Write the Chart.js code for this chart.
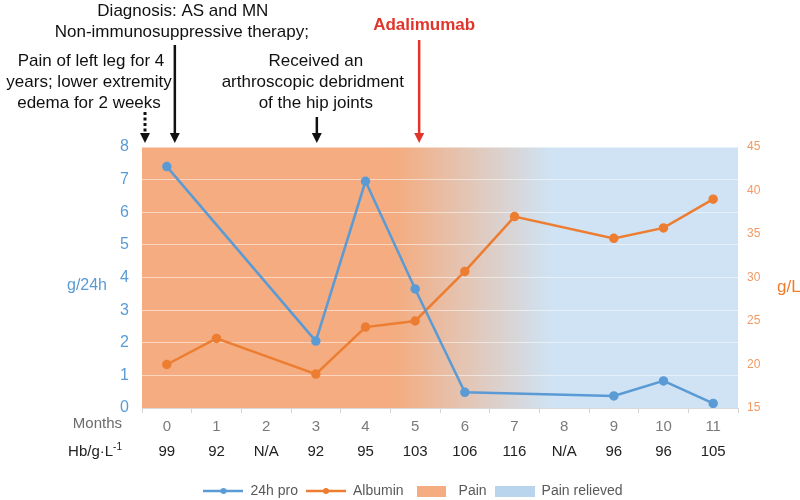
<!DOCTYPE html>
<html>
<head>
<meta charset="utf-8">
<script src="https://cdn.jsdelivr.net/npm/chart.js@4.4.1/dist/chart.umd.min.js"></script>
<style>
html,body{margin:0;padding:0;background:#fff;}
#wrap{width:800px;height:500px;}
</style>
</head>
<body>
<div id="wrap"><canvas id="c" width="800" height="500"></canvas></div>
<script>
// ---- data ----
const months = ['0','1','2','3','4','5','6','7','8','9','10','11'];
const hbValues = ['99','92','N/A','92','95','103','106','116','N/A','96','96','105'];
const pro24h = [7.4, null, null, 2.05, 6.95, 3.65, 0.48, null, null, 0.37, 0.83, 0.14];
const albumin = [20.0, 23.0, null, 18.9, 24.3, 25.0, 30.7, 37.0, null, 34.5, 35.7, 39.0];
const leftRange = [0, 8];
const rightRange = [15, 45];
const painFade = [4.6, 7.75]; // month positions where pain fades into relief

const FONT = '"Liberation Sans", Arial, Helvetica, sans-serif';
const BLUE = '#5B9BD5';
const ORANGE = '#ED7D31';
const PAIN = '#F4AC80';
const RELIEF = '#CFE3F4';

function lineImg(color){
  const c = document.createElement('canvas'); c.width = 40; c.height = 8;
  const g = c.getContext('2d');
  g.strokeStyle = color; g.lineWidth = 2.5;
  g.beginPath(); g.moveTo(0,4); g.lineTo(40,4); g.stroke();
  g.fillStyle = color; g.beginPath(); g.arc(20,4,3,0,Math.PI*2); g.fill();
  return c;
}
function boxImg(color, w){
  const c = document.createElement('canvas'); c.width = w; c.height = 11;
  const g = c.getContext('2d'); g.fillStyle = color; g.fillRect(0,0,w,11);
  return c;
}

const bgPlugin = {
  id: 'bg',
  beforeDraw(chart){
    const {ctx, chartArea: a, scales: {x}} = chart;
    const g0 = x.getPixelForValue(painFade[0]);
    const g1 = x.getPixelForValue(painFade[1]);
    const grad = ctx.createLinearGradient(g0, 0, g1, 0);
    grad.addColorStop(0, PAIN);
    grad.addColorStop(1, RELIEF);
    ctx.save();
    ctx.fillStyle = grad;
    ctx.fillRect(a.left, a.top, a.right - a.left, a.bottom - a.top);
    ctx.restore();
  }
};

function arrow(ctx, x, y0, y1, color, dashed){
  ctx.save();
  ctx.strokeStyle = color; ctx.fillStyle = color; ctx.lineWidth = dashed ? 3 : 2.5;
  if (dashed) ctx.setLineDash([3, 2.5]);
  ctx.beginPath(); ctx.moveTo(x, y0); ctx.lineTo(x, y1 - 8); ctx.stroke();
  ctx.setLineDash([]);
  ctx.beginPath(); ctx.moveTo(x - 5, y1 - 10); ctx.lineTo(x + 5, y1 - 10); ctx.lineTo(x, y1); ctx.closePath(); ctx.fill();
  ctx.restore();
}

const annotPlugin = {
  id: 'annot',
  afterDraw(chart){
    const {ctx, chartArea: a, scales: {x}} = chart;
    const tip = a.top - 4;
    ctx.save();
    ctx.textAlign = 'center'; ctx.textBaseline = 'middle';
    ctx.fillStyle = '#111';
    ctx.font = '17px ' + FONT;
    const xd = x.getPixelForValue(0);
    const xr = x.getPixelForValue(3);
    const xa = x.getPixelForValue(5);
    ctx.fillText('Diagnosis: AS and MN', xd + 16, 11);
    ctx.fillText('Non-immunosuppressive therapy;', xd + 15, 32);
    const xp = a.left - 53;
    ctx.fillText('Pain of left leg for 4', xp + 2, 61);
    ctx.fillText('years; lower extremity', xp, 82);
    ctx.fillText('edema for 2 weeks', xp, 103);
    ctx.fillText('Received an', xr, 61);
    ctx.fillText('arthroscopic debridment', xr - 3, 82);
    ctx.fillText('of the hip joints', xr, 103);
    ctx.fillStyle = '#E0352B';
    ctx.font = 'bold 17px ' + FONT;
    ctx.fillText('Adalimumab', xa + 9, 25);
    ctx.restore();

    arrow(ctx, a.left + 3, 112, tip, '#111', true);
    arrow(ctx, xd + 8, 45, tip, '#111', false);
    arrow(ctx, xr + 1, 117, tip, '#111', false);
    arrow(ctx, xa + 4, 40, tip, '#E0352B', false);

    // axis titles
    ctx.save();
    ctx.textBaseline = 'middle';
    ctx.font = '16px ' + FONT;
    ctx.fillStyle = BLUE; ctx.textAlign = 'center';
    ctx.fillText('g/24h', a.left - 55, 286);
    ctx.font = '17px ' + FONT;
    ctx.fillStyle = ORANGE; ctx.textAlign = 'left';
    ctx.fillText('g/L', a.right + 39, 287);
    // row titles
    ctx.textAlign = 'right';
    ctx.font = '15px ' + FONT;
    ctx.fillStyle = '#6b6b6b';
    ctx.fillText('Months', a.left - 20, 424);
    ctx.fillStyle = '#222';
    ctx.font = '10px ' + FONT;
    const supW = ctx.measureText('-1').width;
    ctx.fillText('-1', a.left - 20, 447);
    ctx.font = '15px ' + FONT;
    ctx.fillText('Hb/g\u00B7L', a.left - 20 - supW, 452);
    ctx.restore();
  }
};

const imgs = {
  pro: lineImg(BLUE),
  alb: lineImg(ORANGE),
  pain: boxImg(PAIN, 29),
  relief: boxImg('#B8D5ED', 40)
};

new Chart(document.getElementById('c'), {
  type: 'line',
  data: {
    labels: months,
    datasets: [
      { label: '24h pro', data: pro24h, yAxisID: 'y', xAxisID: 'x', borderColor: BLUE, backgroundColor: BLUE,
        borderWidth: 2.5, pointRadius: 3.5, pointHoverRadius: 3.5, spanGaps: true, tension: 0 },
      { label: 'Albumin', data: albumin, yAxisID: 'y1', xAxisID: 'x', borderColor: ORANGE, backgroundColor: ORANGE,
        borderWidth: 2.5, pointRadius: 3.5, pointHoverRadius: 3.5, spanGaps: true, tension: 0 }
    ]
  },
  options: {
    responsive: false,
    animation: false,
    devicePixelRatio: 1,
    layout: { padding: { top: 147, left: 26, right: 0, bottom: -8 } },
    plugins: {
      tooltip: { enabled: false },
      legend: {
        position: 'bottom',
        labels: {
          usePointStyle: true,
          pointStyleWidth: 40,
          padding: 8,
          color: '#595959',
          font: { family: FONT, size: 14 },
          generateLabels(){
            return [
              { text: '24h pro', pointStyle: imgs.pro, fillStyle: BLUE, strokeStyle: BLUE, lineWidth: 0, hidden: false, datasetIndex: 0, fontColor: '#595959' },
              { text: 'Albumin', pointStyle: imgs.alb, fillStyle: ORANGE, strokeStyle: ORANGE, lineWidth: 0, hidden: false, datasetIndex: 1, fontColor: '#595959' },
              { text: 'Pain', pointStyle: imgs.pain, fillStyle: PAIN, strokeStyle: PAIN, lineWidth: 0, hidden: false, fontColor: '#595959' },
              { text: 'Pain relieved', pointStyle: imgs.relief, fillStyle: RELIEF, strokeStyle: RELIEF, lineWidth: 0, hidden: false, fontColor: '#595959' }
            ];
          }
        }
      }
    },
    scales: {
      x: {
        type: 'category',
        position: 'bottom',
        offset: true,
        grid: { offset: true, drawOnChartArea: false, drawTicks: true, tickLength: 5, color: '#d4d4d4' },
        border: { display: true, color: '#d9d9d9' },
        ticks: { color: '#7a7a7a', font: { family: FONT, size: 15 }, padding: 5, maxRotation: 0, autoSkip: false },
        afterFit(s){ s.height = 28; }
      },
      x2: {
        type: 'category',
        position: 'bottom',
        labels: hbValues,
        offset: true,
        grid: { display: false, drawTicks: false },
        border: { display: false },
        ticks: { color: '#222', font: { family: FONT, size: 15 }, padding: 7, maxRotation: 0, autoSkip: false },
        afterFit(s){ s.height = 40; }
      },
      y: {
        position: 'left',
        min: leftRange[0], max: leftRange[1],
        ticks: { stepSize: 1, color: BLUE, font: { family: FONT, size: 16 }, padding: 13 },
        grid: { color: 'rgba(255,255,255,0.5)', lineWidth: 1, drawTicks: false },
        border: { display: false },
        afterFit(s){ s.width = 116; }
      },
      y1: {
        position: 'right',
        min: rightRange[0], max: rightRange[1],
        ticks: { stepSize: 5, color: '#F29A63', font: { family: FONT, size: 12 }, padding: 9 },
        grid: { display: false, drawTicks: false },
        border: { display: false },
        afterFit(s){ s.width = 62; }
      }
    }
  },
  plugins: [bgPlugin, annotPlugin]
});
</script>
</body>
</html>
